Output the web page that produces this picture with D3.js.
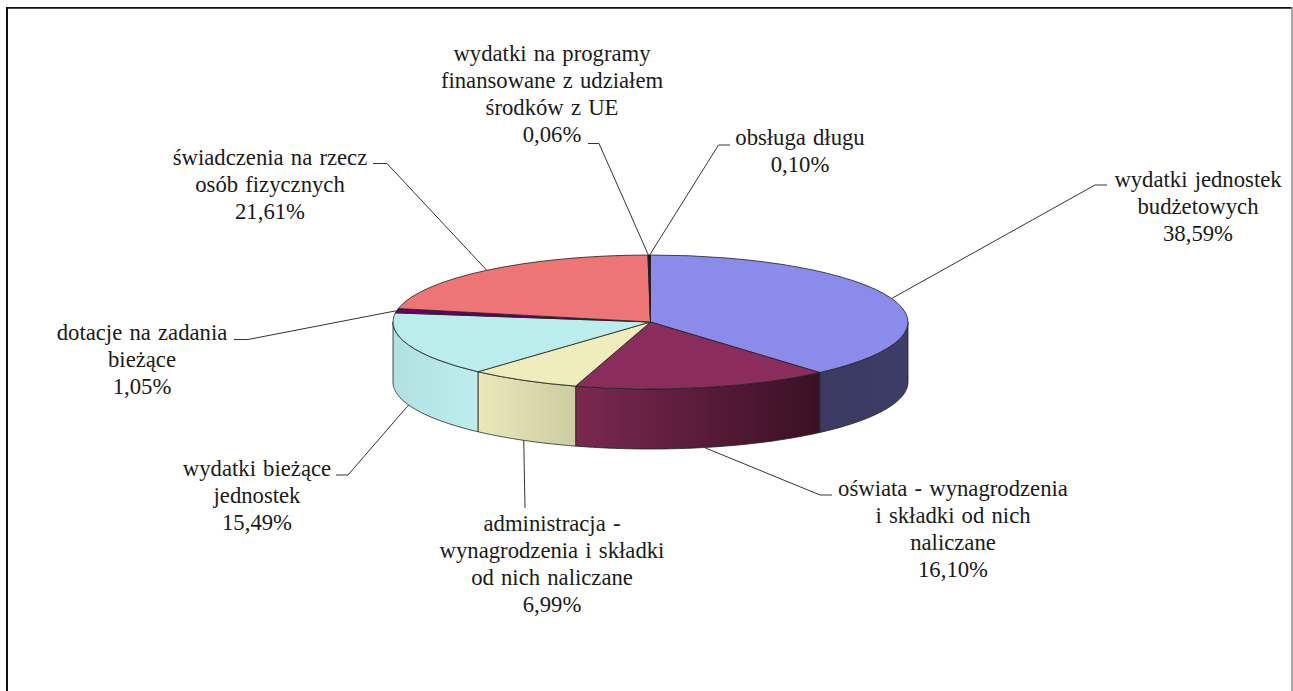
<!DOCTYPE html>
<html><head><meta charset="utf-8">
<script src="https://cdn.jsdelivr.net/npm/d3@7/dist/d3.min.js"></script>
<style>html,body{margin:0;padding:0;background:#fff}svg{display:block}text{font-family:"Liberation Serif",serif;font-size:22.7px;fill:#1a1a1a;word-spacing:1.5px}</style>
</head><body><svg id="c" width="1293" height="691"></svg>
<script>
const categoryLines = [
  ["wydatki jednostek","budżetowych"],
  ["oświata - wynagrodzenia","i składki od nich","naliczane"],
  ["administracja -","wynagrodzenia i składki","od nich naliczane"],
  ["wydatki bieżące","jednostek"],
  ["dotacje na zadania","bieżące"],
  ["świadczenia na rzecz","osób fizycznych"],
  ["wydatki na programy","finansowane z udziałem","środków z UE"],
  ["obsługa długu"]
];
const values = [38.59,16.10,6.99,15.49,1.05,21.61,0.06,0.10];
const topColors = ["#8b8bec","#8a2c5c","#eeedbb","#bbeded","#660066","#ee7575","#000080","#111111"];
const sideStops = [["#3a3a62","#3e3c68"],["#7a2850","#3a1024"],["#ebe9ba","#cdcda2"],["#b2e0e0","#bdeeee"],["#660066","#660066"],["#ee7575","#ee7575"],["#000","#000"],["#000","#000"]];
// layout of the leader elbows and label blocks (elbow x,y ; stub end x ; label centre x ; first baseline y)
const labelLayout = [
  {ex:1095,ey:185,sx:1107,lx:1198,ly:187},
  {ex:820,ey:495,sx:832,lx:953,ly:496},
  {ex:525,ey:508,sx:525,lx:552,ly:531},
  {ex:348,ey:475,sx:336,lx:257,ly:476},
  {ex:248,ey:339.5,sx:234,lx:142,ly:340},
  {ex:387,ey:163.5,sx:373,lx:270,ly:165},
  {ex:599,ey:143.5,sx:588,lx:552,ly:61},
  {ex:718.5,ey:145,sx:730,lx:800,ly:145}
];
const cx=650.5, cy=322, rx=257.5, ry=67, depth=60, lineH=27;
const svg=d3.select("#c");
svg.append("line").attr("x1",7).attr("x2",7).attr("y1",7).attr("y2",691).attr("stroke","#111").attr("stroke-width",2);
svg.append("line").attr("x1",6).attr("x2",1292).attr("y1",7.8).attr("y2",7.8).attr("stroke","#111").attr("stroke-width",1.8);
svg.append("line").attr("x1",1292).attr("x2",1292).attr("y1",7).attr("y2",691).attr("stroke","#888").attr("stroke-width",1.5);

const slices=d3.pie().sort(null).value(d=>d).startAngle(0).endAngle(2*Math.PI)(values);
const px=a=>cx+rx*Math.sin(a), py=a=>cy-ry*Math.cos(a);
const fmt=d3.formatLocale({decimal:",",thousands:" ",grouping:[3],currency:["","%"]}).format(".2f");

const defs=svg.append("defs");
// side walls: visible only on the near half of the ellipse
const nearHalf=[Math.PI/2,3*Math.PI/2];
const sideOf=d=>{
  const a0=Math.max(d.startAngle,nearHalf[0]), a1=Math.min(d.endAngle,nearHalf[1]);
  if(a1<=a0) return null;
  const as=d3.range(0,61).map(i=>a0+(a1-a0)*i/60);
  const up=as.map(a=>[px(a),py(a)]);
  const dn=as.slice().reverse().map(a=>[px(a),py(a)+depth]);
  return {d:d3.line()(up.concat(dn))+"Z",x0:Math.min(px(a0),px(a1)),x1:Math.max(px(a0),px(a1))};
};
slices.forEach((d,i)=>{
  const s=sideOf(d); if(!s) return;
  const g=defs.append("linearGradient").attr("id","g"+i).attr("gradientUnits","userSpaceOnUse")
    .attr("x1",s.x0).attr("x2",s.x1).attr("y1",0).attr("y2",0);
  g.append("stop").attr("offset",0).attr("stop-color",sideStops[i][0]);
  g.append("stop").attr("offset",1).attr("stop-color",sideStops[i][1]);
  svg.append("path").attr("d",s.d).attr("fill",`url(#g${i})`).attr("stroke","#222").attr("stroke-width",.8).attr("stroke-linejoin","round");
});
// top faces
const arc=d3.arc().innerRadius(0).outerRadius(rx);
const topFace=svg.append("g").attr("transform",`translate(${cx},${cy}) scale(1,${ry/rx})`);
topFace.selectAll("path").data(slices).join("path").attr("d",arc)
  .attr("fill",(d,i)=>topColors[i]).attr("stroke","#222").attr("stroke-width",.8)
  .attr("vector-effect","non-scaling-stroke").attr("stroke-linejoin","round");

// leaders and labels
slices.forEach((d,i)=>{
  const m=(d.startAngle+d.endAngle)/2, L=labelLayout[i];
  const ax=px(m), ay=py(m)+(Math.cos(m)<0&&Math.abs(Math.sin(m))<0.97?depth:0);
  svg.append("path").attr("d",d3.line()([[ax,ay],[L.ex,L.ey],[L.sx,L.ey]])).attr("fill","none").attr("stroke","#333").attr("stroke-width",1);
  const t=svg.append("text").attr("text-anchor","middle");
  categoryLines[i].concat([fmt(d.data)+"%"]).forEach((s,k)=>{
    t.append("tspan").attr("x",L.lx).attr("y",L.ly+k*lineH).text(s);
  });
});
</script></body></html>
